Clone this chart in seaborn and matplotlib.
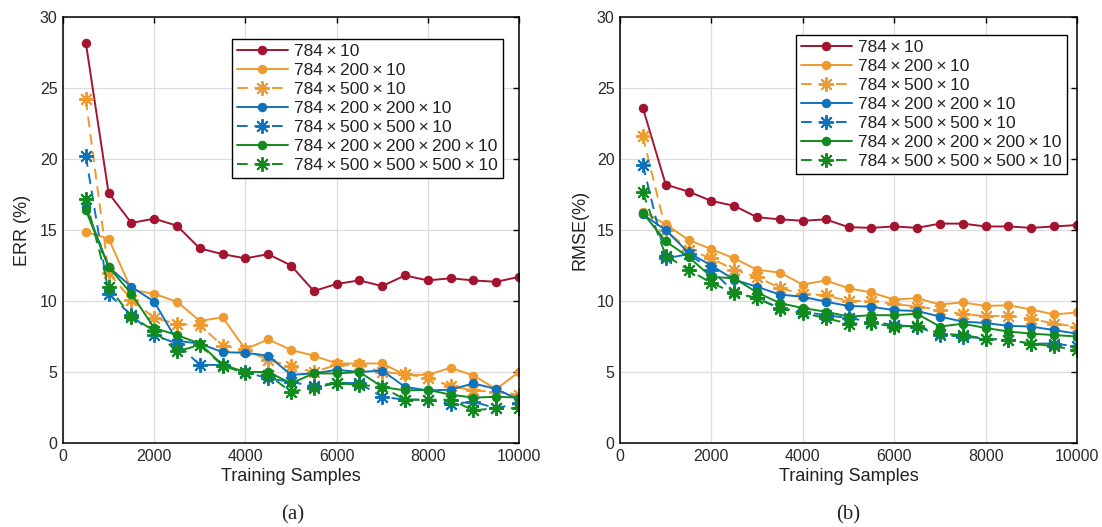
import matplotlib
matplotlib.use("Agg")
import matplotlib.pyplot as plt
import seaborn as sns
import pandas as pd

samples = [500, 1000, 1500, 2000, 2500, 3000, 3500, 4000, 4500, 5000,
           5500, 6000, 6500, 7000, 7500, 8000, 8500, 9000, 9500, 10000]

labels = ["784\u2009\u00d7\u200910", "784\u2009\u00d7\u2009200\u2009\u00d7\u200910",
          "784\u2009\u00d7\u2009500\u2009\u00d7\u200910",
          "784\u2009\u00d7\u2009200\u2009\u00d7\u2009200\u2009\u00d7\u200910",
          "784\u2009\u00d7\u2009500\u2009\u00d7\u2009500\u2009\u00d7\u200910",
          "784\u2009\u00d7\u2009200\u2009\u00d7\u2009200\u2009\u00d7\u2009200\u2009\u00d7\u200910",
          "784\u2009\u00d7\u2009500\u2009\u00d7\u2009500\u2009\u00d7\u2009500\u2009\u00d7\u200910"]

err_784_10 = [28.2, 17.6, 15.5, 15.8, 15.3, 13.7, 13.3, 13.0, 13.3, 12.5, 10.7, 11.2, 11.45, 11.05, 11.8, 11.45, 11.6, 11.45, 11.35, 11.7]
err_200 = [14.85, 14.4, 10.8, 10.5, 9.95, 8.6, 8.85, 6.6, 7.3, 6.55, 6.15, 5.6, 5.6, 5.6, 4.8, 4.8, 5.3, 4.75, 3.8, 5.0]
err_500 = [24.2, 12.0, 10.1, 8.8, 8.4, 8.3, 6.85, 6.55, 5.85, 5.4, 5.0, 5.5, 5.5, 5.0, 4.85, 4.6, 4.0, 3.7, 3.6, 3.4]
err_200_200 = [16.6, 12.4, 11.0, 9.95, 7.2, 7.0, 6.4, 6.35, 6.15, 4.8, 4.9, 5.15, 5.0, 5.1, 3.95, 3.7, 3.75, 4.2, 3.8, 3.05]
err_500_500 = [20.2, 10.5, 9.0, 7.6, 7.0, 5.5, 5.5, 5.0, 4.55, 4.3, 4.0, 4.25, 4.2, 3.25, 3.05, 3.05, 2.75, 2.9, 2.45, 2.8]
err_200x3 = [16.4, 12.4, 10.5, 8.1, 7.6, 7.0, 5.5, 5.0, 5.0, 4.2, 4.9, 4.9, 5.0, 3.95, 3.7, 3.75, 3.4, 3.2, 3.25, 3.2]
err_500x3 = [17.2, 11.0, 8.9, 7.9, 6.45, 6.9, 5.45, 4.9, 4.8, 3.6, 3.9, 4.2, 4.1, 3.95, 3.05, 3.05, 3.05, 2.3, 2.45, 2.45]

rmse_784_10 = [23.6, 18.2, 17.7, 17.05, 16.7, 15.9, 15.75, 15.65, 15.75, 15.2, 15.15, 15.25, 15.15, 15.45, 15.45, 15.25, 15.25, 15.15, 15.25, 15.35]
rmse_200 = [16.3, 15.4, 14.3, 13.65, 13.0, 12.2, 12.0, 11.15, 11.45, 10.9, 10.6, 10.1, 10.2, 9.75, 9.9, 9.65, 9.7, 9.4, 9.05, 9.2]
rmse_500 = [21.6, 15.0, 13.6, 13.0, 12.2, 11.7, 10.9, 10.5, 10.4, 10.0, 10.0, 9.8, 9.6, 9.4, 9.05, 8.95, 8.95, 8.75, 8.4, 8.2]
rmse_200_200 = [16.1, 15.0, 13.4, 12.5, 11.5, 11.0, 10.45, 10.3, 9.95, 9.65, 9.6, 9.35, 9.3, 8.9, 8.55, 8.45, 8.25, 8.2, 7.95, 7.7]
rmse_500_500 = [19.6, 13.0, 13.3, 12.2, 10.6, 10.2, 9.5, 9.25, 9.0, 8.8, 8.55, 8.3, 8.2, 7.6, 7.5, 7.35, 7.25, 7.0, 7.0, 6.8]
rmse_200x3 = [16.2, 14.2, 13.1, 11.7, 11.6, 10.6, 9.85, 9.5, 9.25, 8.9, 9.0, 9.0, 9.1, 8.2, 8.4, 8.1, 7.85, 7.7, 7.6, 7.5]
rmse_500x3 = [17.65, 13.2, 12.2, 11.27, 10.56, 10.2, 9.45, 9.15, 8.8, 8.4, 8.45, 8.2, 8.25, 7.7, 7.6, 7.35, 7.25, 7.0, 6.8, 6.55]

err_series = [err_784_10, err_200, err_500, err_200_200, err_500_500, err_200x3, err_500x3]
rmse_series = [rmse_784_10, rmse_200, rmse_500, rmse_200_200, rmse_500_500, rmse_200x3, rmse_500x3]

colors = ["#A2142F", "#EE9A2E", "#EE9A2E", "#0F72BD", "#0F72BD", "#118A1E", "#118A1E"]
solid = [True, True, False, True, False, True, False]

sns.set_style("whitegrid")
plt.rcParams["font.family"] = ["Liberation Sans", "DejaVu Sans"]

fig = plt.figure(figsize=(11.02, 5.27), dpi=100)
ax1 = fig.add_axes([63 / 1102, 84 / 527, 456 / 1102, 426 / 527])
ax2 = fig.add_axes([620 / 1102, 84 / 527, 457 / 1102, 426 / 527])

ASTER = (8, 2, 0)


def draw(ax, series, ylabel, legend_bbox):
    for lab, vals, col, sol in zip(labels, series, colors, solid):
        df = pd.DataFrame({"x": samples, "y": vals})
        if sol:
            sns.lineplot(data=df, x="x", y="y", ax=ax, color=col, lw=1.4,
                         marker="o", markersize=6, markeredgecolor=col,
                         markeredgewidth=0.8, label=lab)
        else:
            sns.lineplot(data=df, x="x", y="y", ax=ax, color=col, lw=1.4,
                         linestyle=(0, (5.5, 3.5)), marker=ASTER, markersize=10.5,
                         markeredgecolor=col, markeredgewidth=1.4, label=lab)
    ax.set_xlim(0, 10000)
    ax.set_ylim(0, 30)
    ax.set_xticks([0, 2000, 4000, 6000, 8000, 10000])
    ax.set_yticks([0, 5, 10, 15, 20, 25, 30])
    ax.grid(True, color="#DDDDDD", lw=0.9)
    for s in ax.spines.values():
        s.set_color("black")
        s.set_linewidth(1.1)
    ax.tick_params(direction="in", length=4, width=1, top=True, right=True,
                   labelsize=11.5, colors="black", labelcolor="#2a2a2a", pad=4)
    ax.set_xlabel("Training Samples", fontsize=13, labelpad=3, color="#222222")
    ax.set_ylabel(ylabel, fontsize=13, labelpad=6, color="#222222")
    leg = ax.legend(loc="upper left", bbox_to_anchor=legend_bbox,
                    fontsize=12.5, frameon=True, fancybox=False,
                    handlelength=2.9, handletextpad=0.4, labelspacing=0.22,
                    borderpad=0.3, borderaxespad=0)
    leg.get_frame().set_edgecolor("black")
    leg.get_frame().set_linewidth(1.0)
    leg.get_frame().set_alpha(1)
    for t in leg.get_texts():
        t.set_color("#222222")


draw(ax1, err_series, "ERR (%)", ((232 - 63) / 456, (443 - 39) / 426))
draw(ax2, rmse_series, "RMSE(%)", ((796 - 620) / 457, (443 - 35) / 426))

fig.text(293 / 1102, 12 / 527, "(a)", ha="center", va="center", fontsize=15,
         family=["Liberation Serif", "DejaVu Serif"])
fig.text(848 / 1102, 12 / 527, "(b)", ha="center", va="center", fontsize=15,
         family=["Liberation Serif", "DejaVu Serif"])

fig.savefig("out.png", dpi=100)
